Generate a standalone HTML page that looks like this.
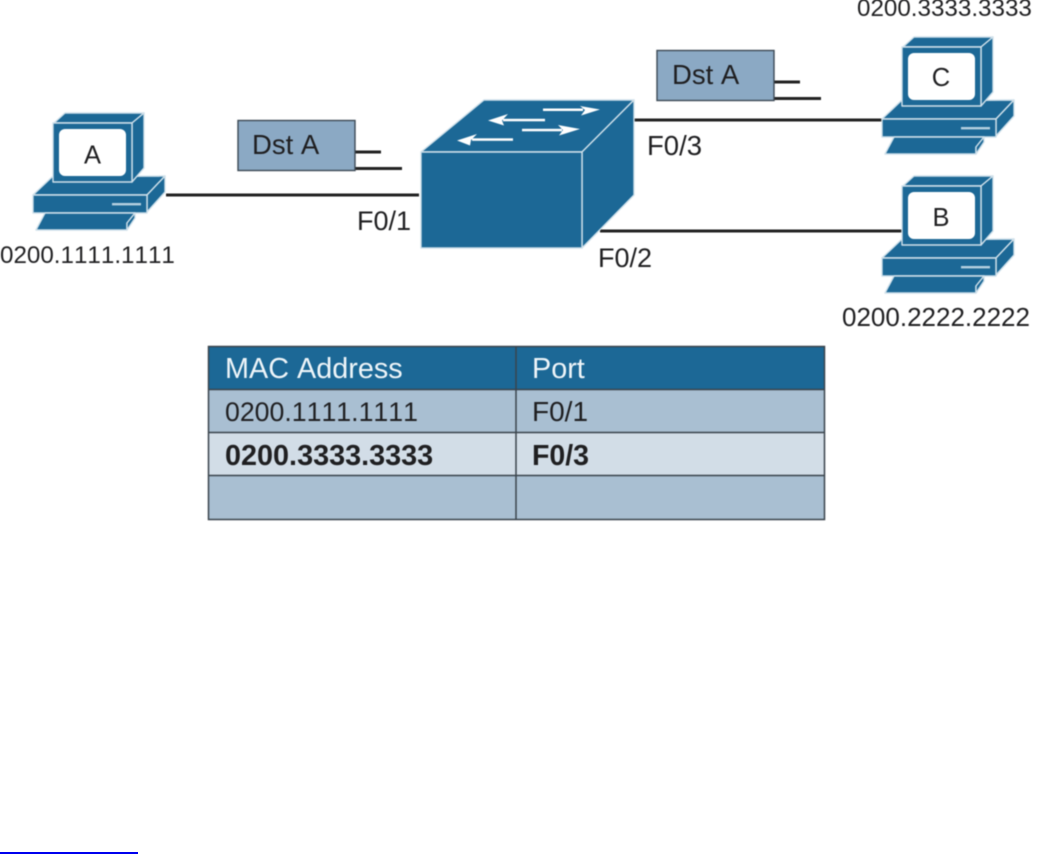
<!DOCTYPE html>
<html><head><meta charset="utf-8"><style>
html,body{margin:0;padding:0;background:#fff;width:1045px;height:854px;overflow:hidden}
svg{display:block}
text{font-family:"Liberation Sans",sans-serif;font-size:24.2px;fill:#1f1f21;font-kerning:none}
.blur{filter:blur(0.45px)}
text.hd{fill:#eef5f9}
</style></head><body>
<svg width="1045" height="854" viewBox="0 0 1045 854" xmlns="http://www.w3.org/2000/svg">
<defs>
<g id="pc" stroke="#cfe0ea" stroke-width="1.4" stroke-linejoin="round">
<!-- base -->
<path d="M33 195 L52 177 L165 176 L147 195 Z" fill="#1c6896"/>
<path d="M147 195 L165 176 L165 192 L147 212 Z" fill="#1c6896"/>
<rect x="33" y="195" width="114" height="18" fill="#1c6896"/>
<!-- monitor -->
<path d="M54 123 L65 113 L144 113 L132 123 Z" fill="#1c6896"/>
<path d="M132 123 L144 113 L144 168 L132 182 Z" fill="#1c6896"/>
<rect x="53" y="123" width="79" height="59" fill="#1c6896"/>
<rect x="59" y="129" width="67" height="47" rx="6" fill="#fff" stroke="none"/>
<!-- keyboard -->
<path d="M45 213 L135 213 L127 223 L127 230 L36 230 Z" fill="#1c6896"/>
<path d="M135 213 L135 218 L127 230 L127 223 Z" fill="#1c6896"/>
<rect x="112" y="203" width="29" height="2.4" fill="#b5d0df" stroke="none"/>
</g>
</defs>

<g class="blur">
<!-- connectors -->
<g stroke="#222" stroke-width="3" fill="none">
<line x1="166" y1="195" x2="419" y2="195"/>
<line x1="633" y1="120" x2="882" y2="120"/>
<line x1="600" y1="231" x2="902" y2="231"/>
<line x1="355" y1="152" x2="381" y2="152"/>
<line x1="355" y1="168.500" x2="402" y2="168.500"/>
<line x1="774" y1="82" x2="800" y2="82"/>
<line x1="774" y1="98.500" x2="821" y2="98.500"/>
</g>

<!-- PCs -->
<use href="#pc"/>
<use href="#pc" x="849" y="-76"/>
<use href="#pc" x="849" y="63"/>
<text x="92.500" y="163.500" text-anchor="middle" style="font-size:25.5px">A</text>
<text x="941" y="86" text-anchor="middle" style="font-size:25.5px">C</text>
<text x="941" y="226" text-anchor="middle" style="font-size:25.5px">B</text>

<!-- switch -->
<g fill="#1c6896" stroke="#cfe0ea" stroke-width="1.4" stroke-linejoin="round">
<path d="M421 152 L484 100 L634 100 L582 152 Z"/>
<path d="M582 152 L634 100 L634 195 L582 248 Z"/>
<rect x="421" y="152" width="161" height="96"/>
</g>
<g fill="#fff" stroke="none">
<rect x="543" y="108.500" width="40" height="2.500"/><path d="M580 106 L600 109.500 L581 115.500 L585 110 Z"/>
<rect x="503" y="118.800" width="42" height="2.500"/><path d="M488 120.500 L508 114 L502 120.500 L504 125.500 Z"/>
<rect x="522" y="128.800" width="40" height="2.500"/><path d="M558 125 L580 129 L559 135.500 L563 130 Z"/>
<rect x="472" y="138.300" width="41" height="2.500"/><path d="M457 140.500 L477 134 L471 140 L470 145.500 Z"/>
</g>

<!-- Dst A boxes -->
<rect x="238" y="120.500" width="117" height="50" fill="#8ba9c4" stroke="#3d4a55" stroke-width="1.400"/>
<rect x="657" y="50.500" width="117" height="50" fill="#8ba9c4" stroke="#3d4a55" stroke-width="1.400"/>
<text x="252" y="154" style="font-size:27.500px">Dst A</text>
<text x="672" y="84" style="font-size:27.500px">Dst A</text>

<!-- labels -->
<text x="0" y="263">0200.1111.1111</text>
<text x="857" y="16">0200.3333.3333</text>
<text x="842" y="326" style="font-size:26px">0200.2222.2222</text>
<text x="357" y="230" style="font-size:27px">F0/1</text>
<text x="647" y="155" style="font-size:27.500px">F0/3</text>
<text x="598" y="267" style="font-size:27px">F0/2</text>

<!-- table -->
<rect x="208.500" y="346.500" width="616" height="43" fill="#1c6896"/>
<rect x="208.500" y="389.500" width="616" height="43" fill="#a9bfd2"/>
<rect x="208.500" y="432.500" width="616" height="43" fill="#d2dde7"/>
<rect x="208.500" y="475.500" width="616" height="44" fill="#a9bfd2"/>
<g stroke="#3a444c" stroke-width="1.500" fill="none">
<rect x="208.500" y="346.500" width="616" height="173"/>
<line x1="208" y1="389.500" x2="825" y2="389.500"/>
<line x1="208" y1="432.500" x2="825" y2="432.500"/>
<line x1="208" y1="475.500" x2="825" y2="475.500"/>
<line x1="516" y1="346" x2="516" y2="520"/>
</g>
<text x="225" y="378" class="hd" style="font-size:28.800px">MAC Address</text>
<text x="532" y="378" class="hd" style="font-size:28.800px">Port</text>
<text x="225" y="421" style="font-size:26.700px">0200.1111.1111</text>
<text x="532" y="421" style="font-size:28px">F0/1</text>
<text x="225" y="465" style="font-size:28.800px;font-weight:bold">0200.3333.3333</text>
<text x="532" y="465" style="font-size:28.500px;font-weight:bold">F0/3</text>
</g>

<rect x="0" y="852" width="138" height="2" fill="#0000ee"/>
</svg>
</body></html>
